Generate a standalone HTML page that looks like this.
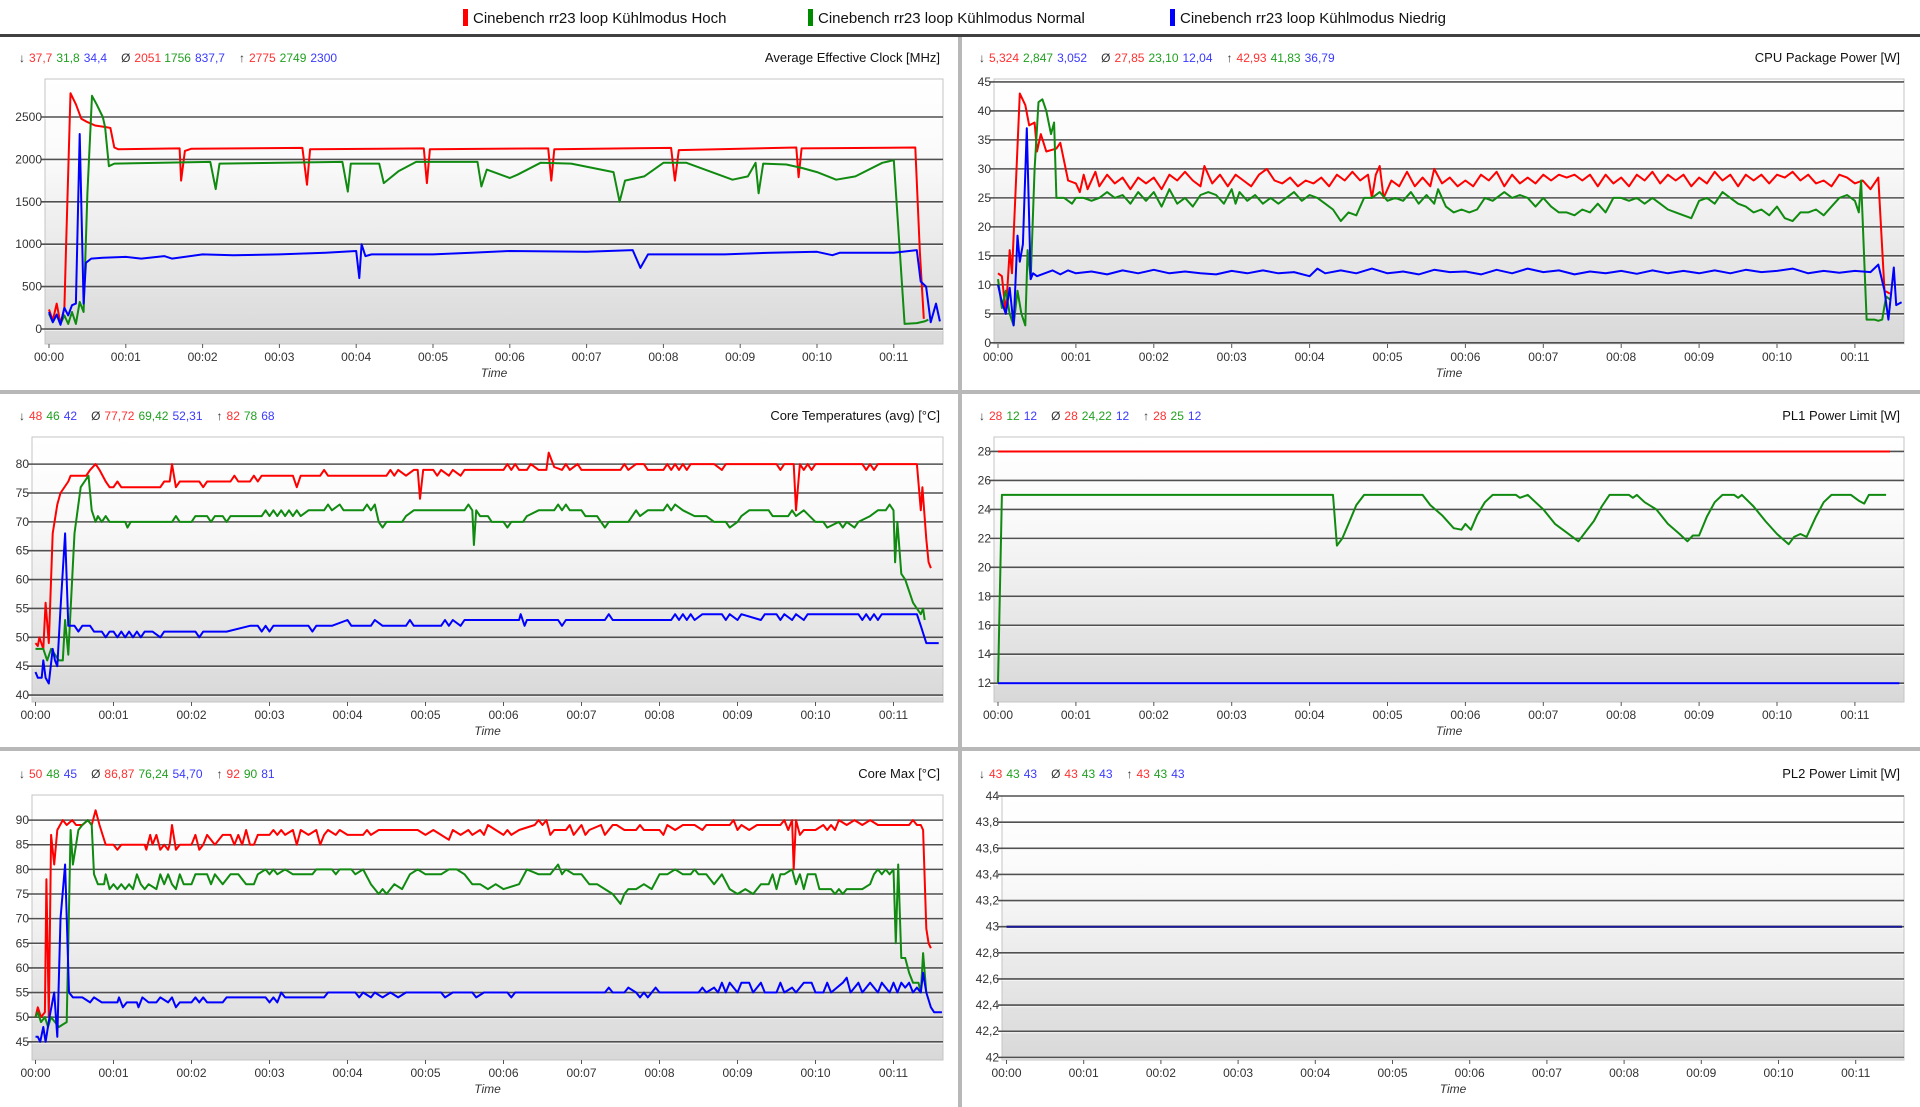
<!DOCTYPE html>
<html><head><meta charset="utf-8"><style>
html,body{margin:0;padding:0;background:#fff;}
svg{display:block;font-family:"Liberation Sans",sans-serif;}
</style></head><body>
<svg id="root" width="1920" height="1107" viewBox="0 0 1920 1107" xmlns="http://www.w3.org/2000/svg">
<defs>
<linearGradient id="bg" x1="0" y1="0" x2="0" y2="1">
<stop offset="0" stop-color="#ffffff"/><stop offset="0.3" stop-color="#fafafa"/><stop offset="1" stop-color="#d8d8d8"/>
</linearGradient>
</defs>
<g>
<rect x="0" y="0" width="1920" height="34" fill="#fff"/>
<g><rect x="463" y="9" width="5" height="17" fill="#ff0000"/><text x="473" y="23" font-size="15" fill="#111">Cinebench rr23 loop Kühlmodus Hoch</text></g>
<g><rect x="808" y="9" width="5" height="17" fill="#008a00"/><text x="818" y="23" font-size="15" fill="#111">Cinebench rr23 loop Kühlmodus Normal</text></g>
<g><rect x="1170" y="9" width="5" height="17" fill="#0000ff"/><text x="1180" y="23" font-size="15" fill="#111">Cinebench rr23 loop Kühlmodus Niedrig</text></g>
</g>
<rect x="0" y="34" width="1920" height="3" fill="#404040"/>
<rect x="958" y="37" width="4" height="1070" fill="#b8b8b8"/>
<rect x="0" y="390" width="1920" height="4" fill="#b8b8b8"/>
<rect x="0" y="747" width="1920" height="4" fill="#b8b8b8"/>
</svg>
<script>
// ---- data: [minutes, value] ----
const clockRed=[[0,230],[0.05,100],[0.1,300],[0.15,60],[0.2,250],[0.22,900],[0.28,2780],[0.35,2650],[0.42,2480],[0.5,2440],[0.6,2400],[0.75,2380],[0.8,2370],[0.85,2140],[0.9,2120],[1.7,2130],[1.72,1750],[1.77,2100],[1.85,2125],[3.3,2135],[3.36,1700],[3.4,2120],[4.88,2130],[4.92,1720],[4.96,2120],[6.5,2130],[6.54,1750],[6.58,2120],[8.1,2135],[8.15,1750],[8.2,2110],[9.73,2140],[9.76,1790],[9.8,2130],[11.28,2140],[11.34,900],[11.39,120]];
const clockGreen=[[0,180],[0.05,80],[0.1,170],[0.15,60],[0.2,160],[0.25,60],[0.3,200],[0.35,60],[0.4,320],[0.45,200],[0.5,1600],[0.56,2750],[0.62,2650],[0.7,2500],[0.73,2380],[0.78,1920],[0.85,1950],[2.1,1970],[2.17,1650],[2.22,1950],[3.82,1970],[3.89,1620],[3.93,1950],[4.3,1950],[4.36,1720],[4.55,1860],[4.78,1970],[5.58,1970],[5.63,1680],[5.7,1880],[6.0,1780],[6.1,1820],[6.4,1960],[6.8,1950],[7.35,1850],[7.43,1500],[7.5,1750],[7.75,1800],[8.0,1960],[8.3,1960],[8.9,1760],[9.1,1800],[9.2,1960],[9.24,1600],[9.3,1950],[9.6,1940],[9.8,1900],[10.0,1850],[10.25,1760],[10.5,1800],[10.85,1960],[11.0,1990],[11.14,60],[11.3,70],[11.4,90],[11.45,110]];
const clockBlue=[[0,200],[0.05,80],[0.1,170],[0.15,50],[0.2,250],[0.25,160],[0.3,280],[0.35,300],[0.4,2300],[0.45,300],[0.48,780],[0.55,830],[0.7,840],[1.0,850],[1.2,830],[1.5,860],[1.6,830],[2.0,880],[2.4,870],[3.0,880],[3.6,900],[4.0,920],[4.04,600],[4.07,1000],[4.12,860],[4.2,880],[5.0,880],[5.5,900],[6.0,920],[7.0,910],[7.6,930],[7.7,720],[7.8,880],[8.8,880],[9.4,900],[10.0,910],[10.2,870],[10.3,900],[11.0,900],[11.3,930],[11.35,560],[11.42,500],[11.48,80],[11.55,300],[11.6,90]];
const cpuRed=[[0,12],[0.05,11.5],[0.1,5],[0.15,16],[0.18,12],[0.28,43],[0.35,41],[0.4,37.5],[0.47,38],[0.5,33],[0.55,36],[0.62,33],[0.75,33.5],[0.8,34.5],[0.9,28],[1.0,27.5],[1.05,26],[1.1,29],[1.15,26.5],[1.25,29.5],[1.3,27],[1.4,29],[1.5,27.5],[1.6,28.5],[1.7,26.5],[1.8,28.5],[1.9,27.5],[2.0,28.5],[2.1,26.5],[2.2,29],[2.3,28],[2.4,29.5],[2.5,28],[2.6,27],[2.65,30.5],[2.75,27.5],[2.85,29],[2.95,27],[3.05,29],[3.15,28],[3.25,27],[3.35,29],[3.45,30],[3.55,28],[3.65,27.5],[3.75,28.5],[3.85,27],[3.95,28],[4.05,27.5],[4.15,28.5],[4.25,27],[4.35,29],[4.45,28],[4.55,29.5],[4.65,28],[4.75,29],[4.8,25],[4.85,29],[4.9,30.5],[4.95,25],[5.05,28],[5.15,27],[5.25,29.5],[5.35,27],[5.45,28.5],[5.55,27],[5.6,30],[5.7,27.5],[5.8,28.5],[5.9,27],[6.0,28],[6.1,27],[6.2,29],[6.3,28],[6.4,29.5],[6.5,27],[6.6,29],[6.7,27.5],[6.8,28.5],[6.9,27.5],[7.0,29],[7.1,28],[7.2,29],[7.3,28.5],[7.4,29],[7.5,28],[7.6,29],[7.7,27],[7.8,29],[7.9,27.5],[8.0,28.5],[8.1,27],[8.2,29],[8.3,28],[8.4,29.5],[8.5,27.5],[8.6,29],[8.7,28],[8.8,29],[8.9,27],[9.0,28.5],[9.1,27.5],[9.2,29.5],[9.3,28],[9.4,29],[9.5,27],[9.6,29],[9.7,28],[9.8,29],[9.9,27.5],[10.0,29],[10.1,28.5],[10.2,29.5],[10.3,28],[10.4,29],[10.5,27.5],[10.6,28],[10.7,27],[10.8,29],[10.9,28.5],[11.0,27.5],[11.1,28],[11.2,26.5],[11.3,28.5],[11.38,9],[11.45,8.5]];
const cpuGreen=[[0,11],[0.05,6],[0.1,9],[0.15,5],[0.2,3],[0.25,9],[0.3,5],[0.35,3],[0.38,16],[0.42,11],[0.47,30],[0.52,41.5],[0.57,42],[0.62,40],[0.68,36],[0.72,38],[0.75,25],[0.85,25],[0.95,24],[1.0,25],[1.1,25],[1.2,24.5],[1.3,25],[1.4,26],[1.5,25],[1.6,25.5],[1.7,24],[1.8,26],[1.9,24.5],[2.0,26],[2.1,23.5],[2.2,26.5],[2.3,24],[2.4,25],[2.5,23.5],[2.6,25.5],[2.7,26],[2.8,25.5],[2.9,24],[3.0,26.5],[3.05,24],[3.1,26],[3.2,24.5],[3.3,25.5],[3.4,24],[3.5,25],[3.6,24],[3.7,25],[3.8,26],[3.9,24.5],[4.0,25.5],[4.1,25],[4.2,24],[4.3,23],[4.4,21],[4.5,22.5],[4.6,22],[4.7,25],[4.8,25],[4.9,26],[5.0,24.5],[5.1,25],[5.2,24.5],[5.3,26],[5.4,24],[5.5,25.5],[5.6,24],[5.65,26.5],[5.75,23.5],[5.85,22.5],[5.95,23],[6.05,22.5],[6.15,23],[6.25,25],[6.35,24.5],[6.5,26],[6.6,25],[6.7,25.5],[6.8,25],[6.9,23.5],[7.0,25],[7.1,23.5],[7.2,22.5],[7.3,22.5],[7.4,22],[7.5,23],[7.6,22.5],[7.7,24],[7.8,22.5],[7.9,25],[8.0,25],[8.1,24.5],[8.2,25],[8.3,24],[8.4,25],[8.5,24],[8.6,23],[8.7,22.5],[8.8,22],[8.9,21.5],[9.0,24.5],[9.1,25],[9.2,24],[9.3,26],[9.4,25],[9.5,24],[9.6,23.5],[9.7,22.5],[9.8,23],[9.9,22],[10.0,23.5],[10.1,21.5],[10.2,21],[10.3,22.5],[10.4,22.5],[10.5,23],[10.6,22],[10.7,23.5],[10.8,25],[10.9,25.5],[11.0,24.5],[11.05,22.5],[11.08,28],[11.15,4],[11.25,4],[11.3,3.8],[11.35,4],[11.4,8],[11.45,7.5]];
const cpuBlue=[[0,10],[0.05,7],[0.1,5],[0.15,9.5],[0.2,3],[0.25,18.5],[0.28,14],[0.32,17],[0.37,37],[0.42,11],[0.45,12],[0.5,11.5],[0.6,12],[0.7,12.5],[0.8,11.8],[0.9,12.5],[1.0,12],[1.2,12.3],[1.4,11.8],[1.6,12.5],[1.8,12],[2.0,12.6],[2.2,12],[2.4,12.3],[2.6,12],[2.8,11.8],[3.0,12.4],[3.2,12],[3.4,12.5],[3.6,12],[3.8,12.2],[4.0,11.5],[4.1,12.8],[4.2,12],[4.4,12.5],[4.6,12],[4.8,12.8],[5.0,12],[5.2,12.3],[5.4,11.8],[5.6,12.6],[5.8,12.2],[6.0,12.3],[6.2,11.8],[6.4,12.6],[6.6,12],[6.8,12.8],[7.0,12.2],[7.2,12.5],[7.4,11.8],[7.6,12.3],[7.8,12],[8.0,12.4],[8.2,11.9],[8.4,12.5],[8.6,12],[8.8,12.4],[9.0,12],[9.2,12.5],[9.4,12],[9.6,12.6],[9.8,12.2],[10.0,12.4],[10.2,12.8],[10.4,12],[10.6,12.4],[10.8,12.1],[11.0,12.4],[11.2,12.2],[11.3,13.5],[11.38,9],[11.43,4],[11.5,13],[11.53,6.5],[11.6,7]];
const tempRed=[[0,49],[0.03,48.5],[0.05,50],[0.1,48],[0.13,56],[0.17,49],[0.22,68],[0.28,73],[0.32,75],[0.42,77],[0.45,78],[0.65,78],[0.7,79],[0.77,80],[0.82,79],[0.9,77],[0.95,76],[1.0,76],[1.05,77],[1.1,76],[1.6,76],[1.65,77],[1.72,77],[1.75,80],[1.8,76],[1.85,77],[2.1,77],[2.15,76],[2.2,77],[2.5,77],[2.55,78],[2.6,77],[2.75,77],[2.8,78],[2.85,77],[2.9,78],[3.3,78],[3.35,76],[3.4,78],[3.65,78],[3.7,79],[3.75,78],[4.5,78],[4.55,79],[4.6,78],[4.65,79],[4.75,78],[4.85,79],[4.9,79],[4.93,74],[4.97,79],[5.1,79],[5.15,78],[5.2,79],[5.3,78],[5.35,79],[5.45,78],[5.5,79],[5.6,79],[6.0,79],[6.05,80],[6.1,79],[6.15,80],[6.2,79],[6.3,79],[6.35,80],[6.45,79],[6.55,79],[6.58,82],[6.65,79.5],[6.75,79],[6.8,80],[6.85,79],[6.95,80],[7.0,79],[7.5,79],[7.55,80],[7.6,79],[7.7,80],[7.8,80],[7.85,79],[8.05,79],[8.1,80],[8.15,79],[8.2,80],[8.25,79],[8.3,80],[8.35,79],[8.4,80],[8.7,80],[8.8,79],[8.85,80],[9.5,80],[9.55,79],[9.6,80],[9.72,80],[9.75,72],[9.8,80],[9.85,79],[9.9,80],[9.95,79],[10.0,80],[10.6,80],[10.65,79],[10.7,80],[10.75,79],[10.8,80],[11.3,80],[11.35,72],[11.37,76],[11.42,67],[11.45,63],[11.48,62]];
const tempGreen=[[0,48],[0.05,48],[0.1,48],[0.15,46],[0.2,48],[0.25,47],[0.3,46],[0.35,46],[0.38,53],[0.42,47],[0.5,68],[0.58,76],[0.68,78],[0.72,72],[0.77,70],[0.8,71],[0.85,70],[0.9,71],[0.95,70],[1.15,70],[1.18,69],[1.22,70],[1.75,70],[1.8,71],[1.85,70],[2.0,70],[2.05,71],[2.2,71],[2.25,70],[2.3,71],[2.4,71],[2.45,70],[2.5,71],[2.9,71],[2.95,72],[3.0,71],[3.05,72],[3.1,71],[3.15,72],[3.2,71],[3.25,72],[3.3,71],[3.35,72],[3.4,71],[3.5,72],[3.7,72],[3.75,73],[3.8,72],[3.9,73],[3.95,72],[4.2,72],[4.25,73],[4.3,72],[4.35,73],[4.4,70],[4.45,69],[4.5,70],[4.7,70],[4.75,71],[4.85,72],[5.5,72],[5.55,73],[5.6,72],[5.62,66],[5.65,72],[5.7,71],[5.8,71],[5.85,70],[6.0,70],[6.05,69],[6.1,70],[6.25,70],[6.3,71],[6.45,72],[6.65,72],[6.7,73],[6.75,72],[6.8,73],[6.85,72],[7.0,72],[7.05,71],[7.2,71],[7.25,70],[7.3,69],[7.35,70],[7.6,70],[7.65,71],[7.7,72],[7.75,71],[7.85,72],[8.05,72],[8.1,73],[8.15,72],[8.2,73],[8.3,72],[8.45,71],[8.6,71],[8.7,70],[8.85,70],[8.9,69],[9.0,70],[9.05,71],[9.15,72],[9.4,72],[9.45,71],[9.65,71],[9.7,72],[9.75,71],[9.85,72],[10.0,70],[10.1,70],[10.15,69],[10.3,70],[10.35,69],[10.4,70],[10.5,69],[10.55,70],[10.7,71],[10.8,72],[10.9,72],[10.95,73],[11.0,72],[11.02,63],[11.05,70],[11.1,61],[11.15,60],[11.25,56],[11.3,55],[11.35,54],[11.38,55],[11.4,53]];
const tempBlue=[[0,44],[0.03,43],[0.08,43],[0.1,46],[0.13,43],[0.17,42],[0.22,48],[0.25,46],[0.28,45],[0.32,55],[0.38,68],[0.42,52],[0.5,52],[0.55,51],[0.6,52],[0.7,52],[0.75,51],[0.85,51],[0.9,50],[0.95,51],[1.0,51],[1.05,50],[1.1,51],[1.15,50],[1.2,51],[1.25,50],[1.3,51],[1.35,50],[1.4,51],[1.5,51],[1.6,50],[1.65,51],[2.05,51],[2.1,50],[2.15,51],[2.45,51],[2.75,52],[2.85,52],[2.9,51],[2.95,52],[3.0,51],[3.05,52],[3.5,52],[3.55,51],[3.6,52],[3.8,52],[4.0,53],[4.05,52],[4.3,52],[4.35,53],[4.45,52],[4.75,52],[4.8,53],[4.85,52],[5.2,52],[5.25,53],[5.3,52],[5.35,53],[5.45,52],[5.5,53],[5.55,53],[6.2,53],[6.22,54],[6.27,52],[6.3,53],[6.7,53],[6.75,52],[6.8,53],[7.3,53],[7.35,54],[7.4,53],[8.15,53],[8.2,54],[8.25,53],[8.3,54],[8.35,53],[8.4,54],[8.45,53],[8.55,54],[8.8,54],[8.85,53],[8.9,54],[9.0,53],[9.05,54],[9.3,53],[9.35,54],[9.5,54],[9.55,53],[9.6,54],[9.7,53],[9.75,54],[9.85,53],[9.9,54],[10.2,54],[10.55,54],[10.6,53],[10.65,54],[10.7,53],[10.75,54],[10.8,53],[10.85,54],[11.3,54],[11.35,52],[11.42,49],[11.58,49]];
const maxRed=[[0,50],[0.03,52],[0.07,50],[0.12,51],[0.14,78],[0.17,50],[0.2,87],[0.24,81],[0.28,88],[0.35,90],[0.4,89],[0.47,90],[0.52,89],[0.6,89],[0.67,90],[0.72,89],[0.77,92],[0.82,89],[0.9,85],[1.0,85],[1.05,84],[1.1,85],[1.4,85],[1.42,84],[1.47,87],[1.5,85],[1.55,87],[1.6,84],[1.65,85],[1.7,84],[1.72,85],[1.75,89],[1.8,84],[1.85,85],[2.0,85],[2.05,87],[2.1,84],[2.15,85],[2.2,87],[2.3,85],[2.4,87],[2.5,87],[2.55,85],[2.6,87],[2.65,85],[2.7,88],[2.75,85],[2.8,85],[2.85,87],[3.0,87],[3.05,88],[3.1,87],[3.15,88],[3.2,87],[3.3,88],[3.35,85],[3.4,88],[3.5,87],[3.6,88],[3.65,85],[3.7,87],[3.75,88],[3.85,87],[3.9,88],[4.0,87],[4.2,87],[4.25,88],[4.3,87],[4.4,88],[4.9,88],[5.0,87],[5.1,88],[5.2,87],[5.3,86],[5.35,88],[5.45,87],[5.55,88],[5.6,87],[5.7,88],[5.75,87],[5.8,89],[5.9,88],[6.0,87],[6.05,88],[6.1,87],[6.2,88],[6.4,89],[6.45,90],[6.5,89],[6.55,90],[6.6,87],[6.65,88],[6.8,88],[6.85,89],[6.9,87],[7.0,89],[7.05,87],[7.1,88],[7.25,89],[7.3,87],[7.4,89],[7.45,89],[7.55,88],[7.7,88],[7.75,89],[7.8,88],[8.0,88],[8.05,87],[8.1,89],[8.2,88],[8.3,89],[8.45,89],[8.55,88],[8.6,89],[8.9,89],[8.95,90],[9.0,88],[9.05,89],[9.15,88],[9.25,89],[9.55,89],[9.6,90],[9.65,88],[9.7,90],[9.72,80],[9.75,90],[9.8,87],[9.85,88],[10.0,88],[10.1,89],[10.15,88],[10.2,89],[10.25,88],[10.3,90],[10.4,89],[10.5,90],[10.6,89],[10.7,90],[10.8,89],[11.2,89],[11.25,90],[11.3,89],[11.35,89],[11.38,88],[11.42,68],[11.45,65],[11.48,64]];
const maxGreen=[[0,50],[0.03,51],[0.07,49],[0.12,50],[0.16,48],[0.2,50],[0.25,49],[0.3,48],[0.35,48.5],[0.4,49],[0.45,88],[0.48,81],[0.55,88],[0.6,89],[0.67,90],[0.72,89],[0.75,79],[0.8,77],[0.88,77],[0.9,79],[0.95,76],[1.0,77],[1.05,76],[1.1,77],[1.15,76],[1.2,77],[1.25,76],[1.3,79],[1.35,77],[1.4,76],[1.45,77],[1.55,76],[1.6,79],[1.65,77],[1.7,79],[1.75,77],[1.8,76],[1.85,79],[1.9,77],[2.0,77],[2.05,79],[2.2,79],[2.25,77],[2.3,79],[2.4,77],[2.5,79],[2.6,79],[2.7,77],[2.8,77],[2.85,79],[2.95,80],[3.0,79],[3.05,80],[3.1,79],[3.2,80],[3.3,79],[3.4,79],[3.55,79],[3.6,80],[3.8,80],[3.85,79],[3.9,80],[4.05,80],[4.1,79],[4.2,80],[4.3,77],[4.4,75],[4.45,76],[4.5,75],[4.6,77],[4.7,76],[4.8,79],[4.9,80],[5.0,79],[5.2,79],[5.3,80],[5.4,80],[5.5,79],[5.6,77],[5.7,77],[5.8,76],[5.9,77],[6.0,76],[6.2,77],[6.3,80],[6.45,79],[6.6,79],[6.65,80],[6.7,81],[6.75,79],[6.8,80],[6.9,79],[7.0,79],[7.1,77],[7.2,77],[7.3,76],[7.4,75],[7.5,73],[7.55,75],[7.6,76],[7.7,76],[7.8,77],[7.9,76],[8.0,79],[8.1,79],[8.2,80],[8.3,79],[8.4,79],[8.45,80],[8.5,79],[8.6,79],[8.7,77],[8.8,79],[8.9,76],[9.0,75],[9.1,76],[9.2,75],[9.3,77],[9.4,77],[9.45,79],[9.5,76],[9.55,79],[9.6,79],[9.7,80],[9.75,77],[9.8,79],[9.85,76],[9.9,79],[10.0,79],[10.05,76],[10.2,76],[10.25,75],[10.3,76],[10.35,75],[10.4,76],[10.6,76],[10.7,77],[10.75,79],[10.8,80],[10.85,79],[10.9,80],[10.95,79],[11.0,80],[11.03,65],[11.06,81],[11.1,62],[11.15,62],[11.2,59],[11.25,57],[11.32,57],[11.35,55],[11.38,63],[11.42,55]];
const maxBlue=[[0,46],[0.03,46],[0.06,45],[0.1,48],[0.13,45],[0.18,50],[0.24,55],[0.28,46],[0.32,70],[0.38,81],[0.43,55],[0.48,54],[0.6,54],[0.7,53],[0.75,54],[0.85,53],[1.05,53],[1.07,54],[1.12,52],[1.17,53],[1.3,53],[1.32,52],[1.37,54],[1.45,53],[1.55,53],[1.6,54],[1.7,53],[1.75,54],[1.8,52],[1.85,53],[2.0,53],[2.05,54],[2.1,53],[2.15,54],[2.2,53],[2.4,53],[2.45,54],[2.95,54],[3.0,53],[3.05,54],[3.1,53],[3.15,55],[3.2,54],[3.7,54],[3.75,55],[4.1,55],[4.15,54],[4.2,55],[4.3,54],[4.35,55],[4.45,54],[4.55,55],[4.65,54],[4.75,55],[5.2,55],[5.25,54],[5.35,55],[5.6,55],[5.65,54],[5.75,55],[6.05,55],[6.1,54],[6.15,55],[7.3,55],[7.35,56],[7.4,55],[7.55,55],[7.6,56],[7.7,55],[7.75,54],[7.8,55],[7.85,54],[7.95,56],[8.0,55],[8.5,55],[8.55,56],[8.6,55],[8.7,56],[8.75,55],[8.8,57],[8.85,55],[8.9,57],[9.0,55],[9.05,57],[9.15,57],[9.2,55],[9.3,57],[9.35,55],[9.5,55],[9.55,57],[9.6,55],[9.7,56],[9.75,55],[9.85,57],[9.95,57],[10.0,55],[10.1,55],[10.15,57],[10.2,55],[10.35,57],[10.4,58],[10.45,55],[10.55,57],[10.6,55],[10.7,57],[10.8,55],[10.85,57],[10.95,55],[11.0,57],[11.05,55],[11.1,57],[11.15,56],[11.2,57],[11.25,55],[11.3,56],[11.35,55],[11.38,59],[11.42,55],[11.48,52],[11.52,51],[11.62,51]];
const pl1Red=[[0,28],[11.45,28]];
const pl1Green=[[0,12],[0.05,25],[4.3,25],[4.35,21.5],[4.42,22],[4.5,23],[4.6,24.3],[4.7,25],[5.45,25],[5.55,24.3],[5.7,23.6],[5.85,22.7],[5.95,22.6],[6.0,23],[6.07,22.6],[6.15,23.6],[6.25,24.5],[6.35,25],[6.65,25],[6.7,24.8],[6.8,25],[6.9,24.5],[7.0,24],[7.15,23],[7.3,22.4],[7.45,21.8],[7.55,22.5],[7.65,23.2],[7.75,24.2],[7.85,25],[8.1,25],[8.15,24.8],[8.2,25],[8.3,24.5],[8.45,24],[8.6,23],[8.75,22.3],[8.85,21.8],[8.92,22.2],[9.0,22.2],[9.1,23.5],[9.2,24.5],[9.3,25],[9.45,25],[9.5,24.8],[9.55,25],[9.7,24.2],[9.85,23.2],[10.0,22.3],[10.15,21.6],[10.22,22.1],[10.3,22.3],[10.38,22.1],[10.5,23.5],[10.6,24.5],[10.7,25],[10.95,25],[11.05,24.6],[11.12,24.4],[11.18,25],[11.4,25]];
const pl1Blue=[[0,12],[11.57,12]];
const pl2Red=[[0,43],[11.6,43]];
const pl2Green=[[0,43],[11.6,43]];
const pl2Blue=[[0,43],[11.6,43]];
const clockTicks=[0,500,1000,1500,2000,2500];
const cpuTicks=[0,5,10,15,20,25,30,35,40,45];
const tempTicks=[40,45,50,55,60,65,70,75,80];
const maxTicks=[45,50,55,60,65,70,75,80,85,90];
const pl1Ticks=[12,14,16,18,20,22,24,26,28];
const pl2Ticks=[42,42.2,42.4,42.6,42.8,43,43.2,43.4,43.6,43.8,44];
const timeLabels=["00:00","00:01","00:02","00:03","00:04","00:05","00:06","00:07","00:08","00:09","00:10","00:11"];
const clockStats=[["37,7","31,8","34,4"],["2051","1756","837,7"],["2775","2749","2300"]];
const cpuStats=[["5,324","2,847","3,052"],["27,85","23,10","12,04"],["42,93","41,83","36,79"]];
const tempStats=[["48","46","42"],["77,72","69,42","52,31"],["82","78","68"]];
const pl1Stats=[["28","12","12"],["28","24,22","12"],["28","25","12"]];
const maxStats=[["50","48","45"],["86,87","76,24","54,70"],["92","90","81"]];
const pl2Stats=[["43","43","43"],["43","43","43"],["43","43","43"]];

const NS="http://www.w3.org/2000/svg";
const root=document.getElementById('root');
const COLORS=["#ff0000","#108a10","#0000ff"];
const STATC=["#ff3030","#20a020","#3a3aff"];
function mk(tag,attrs,parent){const e=document.createElementNS(NS,tag);for(const k in attrs)e.setAttribute(k,attrs[k]);(parent||root).appendChild(e);return e;}
function fmt(v){return String(Math.round(v*10)/10).replace('.',',');}

function chart(cfg){
  const g=mk('g',{});
  
  
  const L=cfg.left,R=cfg.right,T=cfg.top,B=cfg.bottom;
  const yS=v=>B-(v-cfg.ymin)/(cfg.ymax-cfg.ymin)*(B-T);
  const xS=t=>cfg.x0+t*cfg.ppm;
  // stats
  const st=mk('text',{x:cfg.statX,y:cfg.statY,'font-size':12,fill:'#333'},g);
  
  
  const syms=["↓","Ø","↑"];
  cfg.stats.forEach((grp,gi)=>{
    const s=mk('tspan',{fill:'#333',dx:gi?14:0},st);s.textContent=syms[gi];
    grp.forEach((v,i)=>{const t=mk('tspan',{fill:STATC[i],dx:4},st);t.textContent=v;});
  });
  const ti=mk('text',{x:cfg.titleX,y:cfg.statY,'font-size':13,fill:'#111','text-anchor':'end'},g);
  
  
  ti.textContent=cfg.title;
  // plot bg
  const bg=mk('rect',{x:L,y:T,width:R-L,height:B-T,fill:'url(#bg)',stroke:'#c4c4c4','stroke-width':1},g);
  
  
  // grid + y ticks
  cfg.ticks.forEach(v=>{
    const y=yS(v);
    const gl=mk('line',{x1:L-4,x2:R,y1:y,y2:y,stroke:'#505050','stroke-width':1.6},g);
    
    
    mk('line',{x1:L,x2:R,y1:y+1.5,y2:y+1.5,stroke:'#ffffff','stroke-opacity':0.6,'stroke-width':1},g);
    const tl=mk('text',{x:L-3,y:y+4,'font-size':12,fill:'#333','text-anchor':'end'},g);
    
    
    tl.textContent=fmt(v);
  });
  // x ticks
  timeLabels.forEach((lab,i)=>{
    const x=xS(i);
    mk('line',{x1:x,x2:x,y1:B,y2:B+4,stroke:'#555','stroke-width':1},g);
    const tl=mk('text',{x:x,y:B+17,'font-size':12,fill:'#333','text-anchor':'middle'},g);
    
    
    tl.textContent=lab;
  });
  const xt=mk('text',{x:(L+R)/2,y:B+33,'font-size':12,fill:'#333','text-anchor':'middle','font-style':'italic'},g);
  
  
  xt.textContent="Time";
  // series
  cfg.series.forEach((s,i)=>{
    const d=s.map((p,j)=>(j?'L':'M')+xS(p[0]).toFixed(1)+','+yS(p[1]).toFixed(1)).join(' ');
    const col=cfg.colors?cfg.colors[i]:COLORS[i];
    const p=mk('path',{d:d,fill:'none',stroke:col,'stroke-width':2,'stroke-linejoin':'round'},g);
    
    
  });
}
chart({name:'average-effective-clock-chart',title:'Average Effective Clock [MHz]',stats:clockStats,statX:19,statY:62,titleX:940,left:45,right:943,top:79,bottom:344,ymin:-177,ymax:2948,ticks:clockTicks,x0:49,ppm:76.8,series:[clockRed,clockGreen,clockBlue]});
chart({name:'cpu-package-power-chart',title:'CPU Package Power [W]',stats:cpuStats,statX:979,statY:62,titleX:1900,left:994,right:1904,top:79,bottom:344,ymin:-0.2,ymax:45.5,ticks:cpuTicks,x0:998,ppm:77.9,series:[cpuRed,cpuGreen,cpuBlue]});
chart({name:'core-temperatures-chart',title:'Core Temperatures (avg) [°C]',stats:tempStats,statX:19,statY:420,titleX:940,left:32,right:943,top:437,bottom:702,ymin:38.8,ymax:84.7,ticks:tempTicks,x0:35.5,ppm:78,series:[tempRed,tempGreen,tempBlue]});
chart({name:'pl1-power-limit-chart',title:'PL1 Power Limit [W]',stats:pl1Stats,statX:979,statY:420,titleX:1900,left:994,right:1904,top:437,bottom:702,ymin:10.7,ymax:29,ticks:pl1Ticks,x0:998,ppm:77.9,series:[pl1Red,pl1Green,pl1Blue]});
chart({name:'core-max-chart',title:'Core Max [°C]',stats:maxStats,statX:19,statY:778,titleX:940,left:32,right:943,top:795,bottom:1060,ymin:41.3,ymax:95.1,ticks:maxTicks,x0:35.5,ppm:78,series:[maxRed,maxGreen,maxBlue]});
chart({name:'pl2-power-limit-chart',title:'PL2 Power Limit [W]',stats:pl2Stats,statX:979,statY:778,titleX:1900,left:1002,right:1904,top:796,bottom:1060,ymin:41.98,ymax:44,ticks:pl2Ticks,x0:1006.5,ppm:77.2,colors:["#ff0000","#108a10","#1a1aa0"],series:[pl2Red,pl2Green,pl2Blue]});
</script>
</body></html>
